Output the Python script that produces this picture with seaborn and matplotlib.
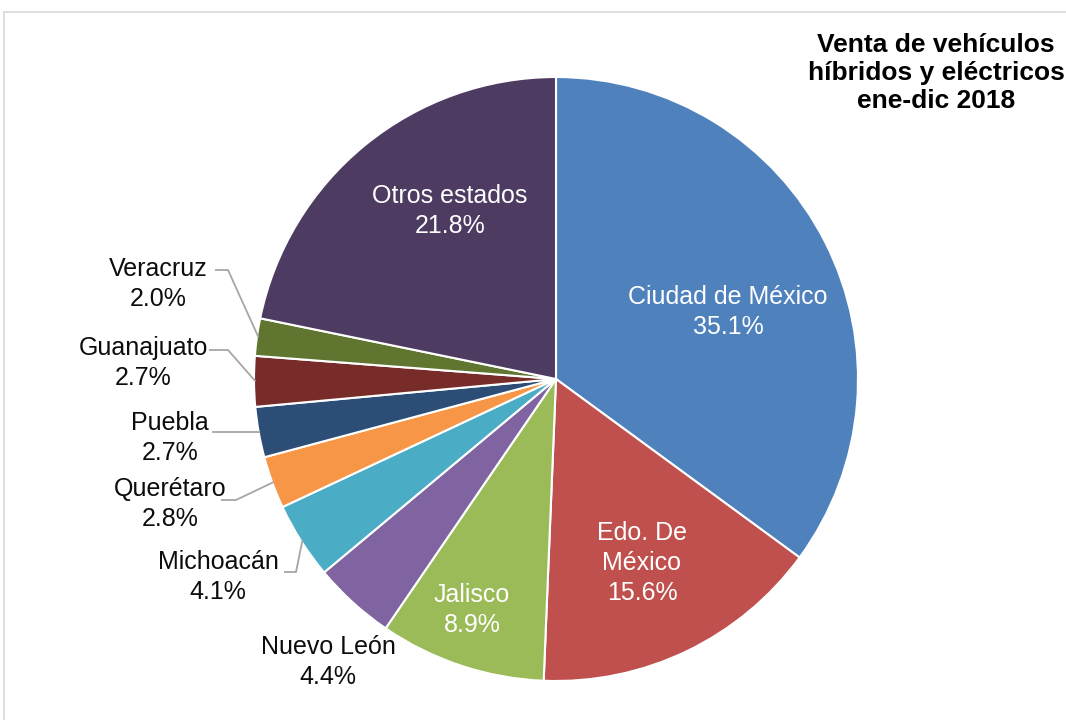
import numpy as np
import matplotlib.pyplot as plt
import seaborn as sns

sns.set_theme(style="white")
plt.rcParams['font.family'] = ['Liberation Sans', 'DejaVu Sans']

estados = ['Ciudad de México', 'Edo. De\nMéxico', 'Jalisco', 'Nuevo León', 'Michoacán',
           'Querétaro', 'Puebla', 'Guanajuato', 'Veracruz', 'Otros estados']
porcentajes = [35.1, 15.6, 8.9, 4.4, 4.1, 2.8, 2.7, 2.7, 2.0, 21.8]
colores = ['#4F81BD', '#C0504D', '#9BBB59', '#8064A2', '#4BACC6',
           '#F79646', '#2C4D75', '#772C2A', '#5F7530', '#4D3B62']

# label layout in pixels (center of text block)
R = 302.0
CX, CY = 556, 379
label_pos = {
    'Ciudad de México': (728, 312),
    'Edo. De\nMéxico': (642, 563),
    'Jalisco': (472, 610),
    'Otros estados': (450, 211),
    'Veracruz': (158, 284),
    'Guanajuato': (143, 363),
    'Puebla': (170, 438),
    'Querétaro': (170, 504),
    'Michoacán': (218, 577),
    'Nuevo León': (328, 662),
}
inside = ['Ciudad de México', 'Edo. De\nMéxico', 'Jalisco', 'Otros estados']
# leader line: (start x, start y, elbow x)
leaders = {
    'Veracruz': (215, 270, 228),
    'Guanajuato': (209, 350, 228),
    'Puebla': (212, 432, 212),
    'Querétaro': (221, 500, 236),
    'Michoacán': (284, 572, 296),
}


def to_data(px, py):
    return (px - CX) / R, -(py - CY) / R


fig = plt.figure(figsize=(10.66, 7.2), dpi=100)
ax = fig.add_axes([0, 0, 1, 1])

wedges, _ = ax.pie(porcentajes, colors=colores, startangle=90, counterclock=False,
                   radius=1.0, wedgeprops=dict(edgecolor='white', linewidth=1.5))
ax.set_xlim(-CX / R, (1066 - CX) / R)
ax.set_ylim(-(720 - CY) / R, CY / R)
ax.set_aspect('auto')
ax.axis('off')

for w, name, val in zip(wedges, estados, porcentajes):
    x, y = to_data(*label_pos[name])
    col = 'white' if name in inside else '#0d0d0d'
    ax.text(x, y, f'{name}\n{val:.1f}%', ha='center', va='center', fontsize=18,
            color=col, linespacing=1.3)
    if name in leaders:
        sx, sy, ex = leaders[name]
        ang = np.deg2rad((w.theta1 + w.theta2) / 2)
        tx, ty = np.cos(ang) * 0.995, np.sin(ang) * 0.995
        p0 = to_data(sx, sy)
        p1 = to_data(ex, sy)
        ax.plot([p0[0], p1[0], tx], [p0[1], p1[1], ty], color='#A6A6A6', lw=1.3,
                solid_capstyle='butt')

fig.text(936 / 1066, 1 - 73 / 720, 'Venta de vehículos\nhíbridos y eléctricos\nene-dic 2018',
         ha='center', va='center', fontsize=19, fontweight='bold', linespacing=1.2,
         color='black')

# chart frame
fig.patches.append(plt.Rectangle((4 / 1066, -0.05), 1.1, 1 - 12 / 720 + 0.05,
                                 transform=fig.transFigure, fill=False,
                                 edgecolor='#D9D9D9', lw=1.2))

plt.savefig('out.png', dpi=100)
